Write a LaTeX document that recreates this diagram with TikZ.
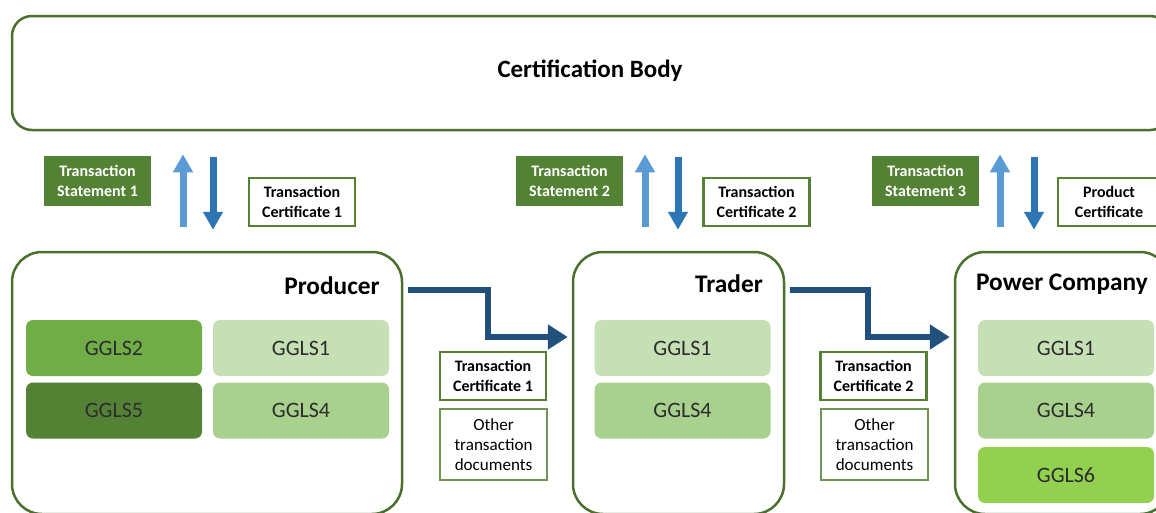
\documentclass[tikz,border=0pt]{standalone}
\usepackage{fontspec}
\setmainfont{Carlito}
\usetikzlibrary{arrows.meta,calc}
\newdimen\pxu \pxu=0.75pt
\definecolor{dg}{RGB}{84,130,53}
\definecolor{bord}{RGB}{74,112,46}
\definecolor{gA}{RGB}{112,173,71}
\definecolor{gB}{RGB}{197,224,180}
\definecolor{gC}{RGB}{169,209,142}
\definecolor{gD}{RGB}{146,208,80}
\definecolor{upc}{RGB}{91,155,213}
\definecolor{dnc}{RGB}{46,117,182}
\definecolor{flowc}{RGB}{33,80,125}
\definecolor{txt}{RGB}{45,45,45}
\begin{document}
\begin{tikzpicture}[x=0.75pt,y=-0.75pt,
  bigbox/.style={draw=bord, line width=2.5\pxu, rounded corners=30\pxu, inner sep=0pt},
  stmt/.style={fill=dg, text=white, font=\bfseries\fontsize{12}{15}\selectfont, minimum width=107\pxu, minimum height=50\pxu, align=center, inner sep=0pt},
  cert/.style={draw=dg, line width=2.5\pxu, fill=white, font=\bfseries\fontsize{12}{15}\selectfont, minimum width=106\pxu, minimum height=48\pxu, align=center, inner sep=0pt},
  other/.style={draw=dg!85, line width=1.3\pxu, fill=white, font=\fontsize{12.8}{15}\selectfont, minimum width=107\pxu, minimum height=71\pxu, align=center, inner sep=0pt},
  ggls/.style={rounded corners=7\pxu, minimum width=176\pxu, minimum height=56\pxu, font=\fontsize{16.5}{19}\selectfont, text=txt, inner sep=0pt},
  ttl/.style={font=\bfseries\fontsize{19}{23}\selectfont, inner sep=0pt},
  uparr/.style={draw=upc, line width=5.25pt, -{Triangle[width=14.25pt,length=13.5pt]}},
  dnarr/.style={draw=dnc, line width=5.25pt, -{Triangle[width=14.25pt,length=13.5pt]}},
  flow/.style={draw=flowc, line width=4.5pt, -{Triangle[width=18pt,length=15pt]}}
]
\useasboundingbox (0,0) rectangle (1156,512);
\fill[white] (0,0) rectangle (1156,512);

% Certification body
\node[draw=bord, line width=2.5\pxu, rounded corners=20\pxu, minimum width=1158\pxu, minimum height=114\pxu, inner sep=0pt] (cb) at (591,73) {};
\node[font=\bfseries\fontsize{18.7}{22}\selectfont] (cbt) at (590,71) {Certification Body};

% Main boxes
\node[bigbox, minimum width=390\pxu, minimum height=262\pxu] (producer) at (207,383) {};
\node[bigbox, minimum width=211\pxu, minimum height=262\pxu] (trader) at (678.5,383) {};
\node[bigbox, minimum width=215\pxu, minimum height=262\pxu] (power) at (1062.5,383) {};
\node[ttl] (prodt) at (332,286) {Producer};
\node[ttl] (tradt) at (729,284) {Trader};
\node[ttl] (powt) at (1062,284) {Power Company};

% GGLS boxes
\node[ggls, fill=gA] (p2) at (114,348) {GGLS2};
\node[ggls, fill=gB] (p1) at (301,348) {GGLS1};
\node[ggls, fill=dg] (p5) at (114,410.5) {GGLS5};
\node[ggls, fill=gC] (p4) at (301,410.5) {GGLS4};
\node[ggls, fill=gB] (t1) at (682.5,348) {GGLS1};
\node[ggls, fill=gC] (t4) at (682.5,410.5) {GGLS4};
\node[ggls, fill=gB] (c1) at (1066,348) {GGLS1};
\node[ggls, fill=gC] (c4) at (1066,410.5) {GGLS4};
\node[ggls, fill=gD] (c6) at (1066,475) {GGLS6};

% Statements and certificates
\node[stmt] (ts1) at (97.5,181) {Transaction\\Statement 1};
\node[cert] (tc1) at (302,202) {Transaction\\Certificate 1};
\node[stmt] (ts2) at (569.5,181) {Transaction\\Statement 2};
\node[cert] (tc2) at (756.5,202) {Transaction\\Certificate 2};
\node[stmt] (ts3) at (925.5,181) {Transaction\\Statement 3};
\node[cert, minimum width=102\pxu] (pc) at (1109,202) {Product\\Certificate};

% Documents between
\node[cert] (dc1) at (493,376) {Transaction\\Certificate 1};
\node[other] (od1) at (493.5,444.5) {Other\\transaction\\documents};
\node[cert] (dc2) at (873.5,376) {Transaction\\Certificate 2};
\node[other] (od2) at (874.5,444.5) {Other\\transaction\\documents};

% Vertical arrows
\draw[uparr] ($(producer.north -| 183,0)+(0,-24)$) -- ($(cb.south -| 183,0)+(0,23)$);
\draw[dnarr] ($(cb.south -| 213,0)+(0,26)$) -- ($(producer.north -| 213,0)+(0,-21)$);
\draw[uparr] ($(trader.north -| 645,0)+(0,-24)$) -- ($(cb.south -| 645,0)+(0,23)$);
\draw[dnarr] ($(cb.south -| 678,0)+(0,26)$) -- ($(trader.north -| 678,0)+(0,-21)$);
\draw[uparr] ($(power.north -| 1000,0)+(0,-24)$) -- ($(cb.south -| 1000,0)+(0,23)$);
\draw[dnarr] ($(cb.south -| 1034,0)+(0,26)$) -- ($(power.north -| 1034,0)+(0,-21)$);

% Flow arrows
\draw[flow] ($(producer.east |- 0,290)+(5,0)$) -- (488,290) -- (488,337) -- ($(trader.west |- 0,337)+(-4,0)$);
\draw[flow] ($(trader.east |- 0,290)+(5,0)$) -- (868,290) -- (868,337) -- ($(power.west |- 0,337)+(-4,0)$);
\end{tikzpicture}
\end{document}
